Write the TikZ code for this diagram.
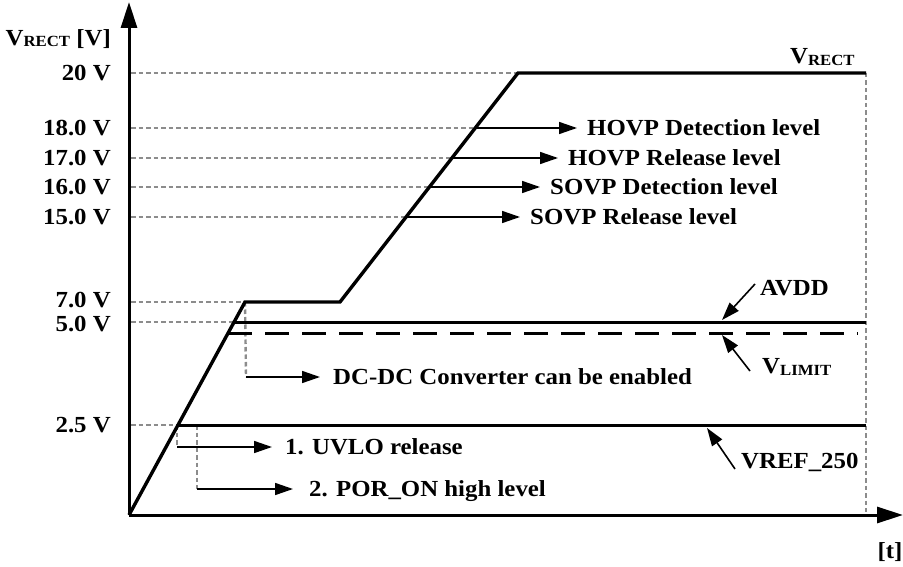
\documentclass[tikz,border=0pt]{standalone}
\usepackage{fontspec}
\setmainfont[FakeStretch=1.08]{Liberation Serif}
\usetikzlibrary{arrows.meta}
\definecolor{guidegray}{RGB}{140,140,140}
\newcommand{\subsc}[1]{\raisebox{-1.5pt}{\fontsize{15.5}{15.5}\selectfont #1}}
\begin{document}
\begin{tikzpicture}[x=1pt,y=-1pt,
  font=\bfseries\fontsize{23}{26}\selectfont,
  guide/.style={draw=guidegray,line width=2.4pt,dash pattern=on 4.5pt off 3pt},
  curve/.style={line width=3.4pt,line join=miter},
  level/.style={line width=3pt},
  limitline/.style={line width=3pt,dash pattern=on 24pt off 13pt},
  conn/.style={line width=1.6pt,-{Triangle[length=18pt,width=12pt]}},
  axisline/.style={line width=3pt,-{Triangle[length=26pt,width=16pt]}},
  lbl/.style={anchor=west,inner ysep=0pt,text height=15pt,text depth=0pt},
  ylbl/.style={anchor=east,inner sep=0pt,text height=15pt,text depth=0pt},
  tag/.style={anchor=west,inner sep=0pt}]
\useasboundingbox (0,0) rectangle (903,567);

% key points
\coordinate (O) at (129,515);
\coordinate (ytop) at (129,2);
\coordinate (xend) at (903,515);
\coordinate (A) at (245,302);
\coordinate (B) at (340,302);
\coordinate (C) at (518,73);
\coordinate (D) at (866,73);
\coordinate (Dx) at (866,512);
\coordinate (p18) at (475,128);
\coordinate (p17) at (452,158);
\coordinate (p16) at (429,187);
\coordinate (p15) at (406,217);
\coordinate (p5) at (234,322);
\coordinate (p5e) at (866,322);
\coordinate (lim) at (228,333);
\coordinate (lime) at (858,333);
\coordinate (p25) at (178,425);
\coordinate (p25e) at (866,425);
\coordinate (dcbend) at (246,377);
\coordinate (u1) at (177,425);
\coordinate (u1b) at (177,447);
\coordinate (u2) at (197,425);
\coordinate (u2b) at (197,489);
\coordinate (avddtip) at (722,320);
\coordinate (limtip) at (722,335);
\coordinate (vreftip) at (707,428);

% y labels
\node[ylbl] (yname) at (111,38) {V\subsc{RECT} [V]};
\node[ylbl] (y20) at (111,73) {20 V};
\node[ylbl] (y18) at (111,128) {18.0 V};
\node[ylbl] (y17) at (111,158) {17.0 V};
\node[ylbl] (y16) at (111,187) {16.0 V};
\node[ylbl] (y15) at (111,217) {15.0 V};
\node[ylbl] (y7) at (111,300) {7.0 V};
\node[ylbl] (y5) at (111,324) {5.0 V};
\node[ylbl] (y25) at (111,425) {2.5 V};
\node[inner sep=0pt] (tlbl) at (890,552) {[t]};

% guide lines
\draw[guide] (131,73) -- (C);
\draw[guide] (131,128) -- (p18);
\draw[guide] (131,158) -- (p17);
\draw[guide] (131,187) -- (p16);
\draw[guide] (131,217) -- (p15);
\draw[guide] (131,302) -- (A);
\draw[guide] (131,322) -- (p5);
\draw[guide] (131,425) -- (p25);
\draw[guide] (D) -- (Dx);
\draw[guide] (A) -- (dcbend);
\draw[guide] (u1) -- (u1b);
\draw[guide] (u2) -- (u2b);

% level lines
\draw[level] (p5) -- (p5e);
\draw[limitline] (lim) -- (lime);
\draw[level] (p25) -- (p25e);

% V_RECT curve
\draw[curve] (O) -- (A) -- (B) -- (C) -- (D);

% axes
\draw[axisline] (O) -- (ytop);
\draw[axisline] (O) -- (xend);

% labels with arrows
\node[lbl,inner xsep=10pt] (hdet) at (577,128) {HOVP Detection level};
\node[lbl,inner xsep=10pt] (hrel) at (558,158) {HOVP Release level};
\node[lbl,inner xsep=10pt] (sdet) at (540,187) {SOVP Detection level};
\node[lbl,inner xsep=10pt] (srel) at (520,217) {SOVP Release level};
\node[lbl,inner xsep=13pt] (dcdc) at (320,377) {DC-DC Converter can be enabled};
\node[lbl,inner xsep=13pt] (uvlo) at (272,447) {1. UVLO release};
\node[lbl,inner xsep=16pt] (por) at (293,489) {2. POR\_ON high level};
\draw[conn] (p18) -- (hdet.west);
\draw[conn] (p17) -- (hrel.west);
\draw[conn] (p16) -- (sdet.west);
\draw[conn] (p15) -- (srel.west);
\draw[conn] (dcbend) -- (dcdc.west);
\draw[conn] (u1b) -- (uvlo.west);
\draw[conn] (u2b) -- (por.west);

% right-side tags
\node[tag] (vrect) at (790,57) {V\subsc{RECT}};
\node[tag] (avdd) at (760,288) {AVDD};
\node[tag] (vlimit) at (762,367) {V\subsc{LIMIT}};
\node[tag] (vref) at (741,462) {VREF\_250};
\draw[conn] ([xshift=-5pt,yshift=4pt]avdd.west) -- (avddtip);
\draw[conn] ([xshift=-12pt,yshift=-4pt]vlimit.west) -- (limtip);
\draw[conn] ([xshift=-6pt,yshift=-7pt]vref.west) -- (vreftip);
\end{tikzpicture}
\end{document}
